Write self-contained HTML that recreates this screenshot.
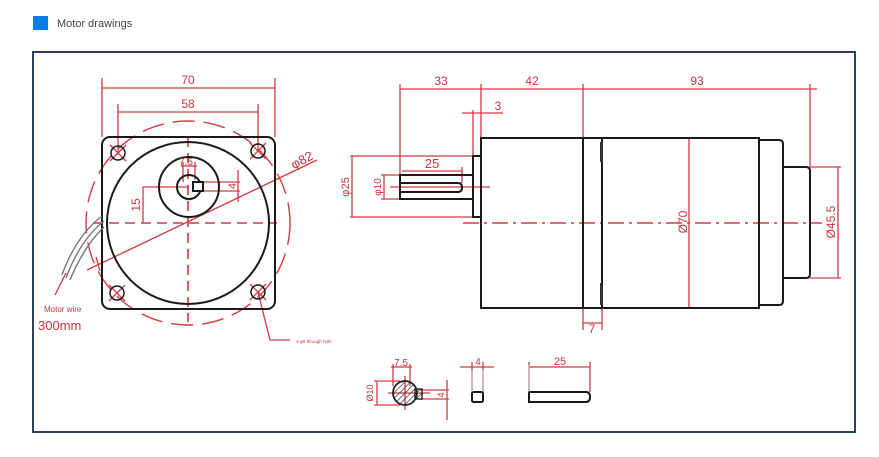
<!DOCTYPE html>
<html><head><meta charset="utf-8"><style>
html,body{margin:0;padding:0;background:#fff;width:879px;height:457px;overflow:hidden}
svg{display:block}
</style></head><body>
<svg width="879" height="457" viewBox="0 0 879 457" xmlns="http://www.w3.org/2000/svg" font-family="Liberation Sans, sans-serif">
<rect x="33" y="16" width="15" height="14" fill="#0a7ee8"/>
<text x="57" y="27" font-size="11" fill="#444">Motor drawings</text>
<rect x="33" y="52" width="822" height="380" fill="none" stroke="#2b3f63" stroke-width="2"/>

<g stroke="#d03a44" fill="none" stroke-width="1.3">
<line x1="102" y1="78" x2="102" y2="137"/><line x1="275" y1="78" x2="275" y2="137"/>
<line x1="102" y1="88" x2="275" y2="88"/>
<line x1="118" y1="104" x2="118" y2="153"/><line x1="258" y1="104" x2="258" y2="151"/>
<line x1="118" y1="112" x2="258" y2="112"/>
<circle cx="188" cy="223" r="102" stroke-dasharray="22 9" stroke-width="1.4"/>
<line x1="93" y1="223" x2="277" y2="223" stroke-dasharray="10 6" stroke-width="1.6"/>
<line x1="188" y1="137" x2="188" y2="322" stroke-dasharray="10 6" stroke-width="1.6"/>
<line x1="87" y1="270" x2="317" y2="160"/>
<line x1="96" y1="257" x2="100" y2="271"/>
<line x1="143" y1="187" x2="189" y2="187"/><line x1="143" y1="187" x2="143" y2="223"/>
<line x1="203" y1="182" x2="240" y2="182"/><line x1="203" y1="191" x2="240" y2="191"/>
<line x1="238" y1="170" x2="238" y2="202"/>
<line x1="183" y1="162" x2="183" y2="182"/><line x1="195" y1="162" x2="195" y2="180"/>
<line x1="181" y1="166" x2="197" y2="166"/>
<line x1="110" y1="145" x2="126" y2="161"/><line x1="110" y1="161" x2="126" y2="145"/>
<line x1="250" y1="143" x2="266" y2="159"/><line x1="250" y1="159" x2="266" y2="143"/>
<line x1="109" y1="285" x2="125" y2="301"/><line x1="109" y1="301" x2="125" y2="285"/>
<line x1="250" y1="284" x2="266" y2="300"/><line x1="250" y1="300" x2="266" y2="284"/>
<polyline points="258,292 270,340 290,340"/>
<line x1="55" y1="295" x2="66" y2="273"/>
<line x1="400" y1="89" x2="817" y2="89"/>
<line x1="400" y1="84" x2="400" y2="175"/><line x1="481" y1="84" x2="481" y2="138"/>
<line x1="583" y1="84" x2="583" y2="330"/><line x1="810" y1="84" x2="810" y2="167"/>
<line x1="473" y1="110" x2="473" y2="156"/><line x1="462" y1="113" x2="503" y2="113"/>
<line x1="402" y1="171" x2="462" y2="171"/><line x1="462" y1="167" x2="462" y2="183"/>
<line x1="350" y1="156" x2="473" y2="156"/><line x1="350" y1="217" x2="473" y2="217"/>
<line x1="352" y1="156" x2="352" y2="217"/>
<line x1="381" y1="175" x2="400" y2="175"/><line x1="381" y1="199" x2="400" y2="199"/>
<line x1="384" y1="175" x2="384" y2="199"/>
<line x1="390" y1="187" x2="490" y2="187"/>
<line x1="463" y1="223" x2="822" y2="223" stroke-dasharray="16 5 3 5" stroke-width="1.5"/>
<line x1="689" y1="138" x2="689" y2="308"/>
<line x1="810" y1="167" x2="841" y2="167"/><line x1="810" y1="278" x2="841" y2="278"/>
<line x1="838" y1="167" x2="838" y2="278"/>
<line x1="602" y1="308" x2="602" y2="330"/><line x1="583" y1="323" x2="602" y2="323"/>
<line x1="393" y1="364" x2="393" y2="386"/><line x1="410" y1="364" x2="410" y2="386"/>
<line x1="391" y1="367" x2="412" y2="367"/>
<line x1="374" y1="381" x2="400" y2="381"/><line x1="374" y1="405" x2="400" y2="405"/>
<line x1="377" y1="381" x2="377" y2="405"/>
<line x1="420" y1="390" x2="449" y2="390"/><line x1="420" y1="399" x2="449" y2="399"/>
<line x1="447" y1="380" x2="447" y2="420"/>
<line x1="405" y1="376" x2="405" y2="410"/><line x1="388" y1="393" x2="430" y2="393"/>
<line x1="460" y1="367" x2="494" y2="367"/><line x1="472" y1="362" x2="472" y2="392"/><line x1="483" y1="362" x2="483" y2="392"/>
<line x1="529" y1="367" x2="590" y2="367"/><line x1="529" y1="362" x2="529" y2="392"/><line x1="590" y1="362" x2="590" y2="392"/>
</g>

<g stroke="#1a1a1a" fill="none" stroke-width="2">
<rect x="102" y="137" width="173" height="172" rx="8"/>
<circle cx="188" cy="223" r="81"/>
<circle cx="189" cy="187" r="30"/>
<circle cx="189" cy="187" r="12"/>
<rect x="193" y="182" width="10" height="9" fill="#fff"/>
<circle cx="118" cy="153" r="7" stroke-width="1.5"/>
<circle cx="258" cy="151" r="7" stroke-width="1.5"/>
<circle cx="117" cy="293" r="7" stroke-width="1.5"/>
<circle cx="258" cy="292" r="7" stroke-width="1.5"/>
<rect x="481" y="138" width="278" height="170"/>
<line x1="583" y1="138" x2="583" y2="308"/>
<line x1="602" y1="138" x2="602" y2="308"/>
<path d="M759 140 H779 Q783 140 783 144 V301 Q783 305 779 305 H759"/>
<path d="M783 167 H806 Q810 167 810 171 V274 Q810 278 806 278 H783"/>
<rect x="473" y="156" width="8" height="61"/>
<rect x="400" y="175" width="73" height="24"/>
<path d="M401 183 H458 Q462 183 462 187.5 Q462 192 458 192 H401"/>
<rect x="472" y="392" width="11" height="10" rx="1.5"/>
<path d="M529 392 H586 Q590 392 590 397 Q590 402 586 402 H529 Z"/>
</g>
<g fill="#333"><rect x="600" y="142" width="3" height="20"/><rect x="600" y="283" width="3" height="22"/></g>
<g stroke="#aaa" stroke-width="1"><line x1="472" y1="370" x2="472" y2="392"/><line x1="483" y1="370" x2="483" y2="392"/>
<line x1="529" y1="365" x2="529" y2="392"/></g>
<defs><pattern id="h" width="4" height="4" patternUnits="userSpaceOnUse" patternTransform="rotate(45)"><line x1="0" y1="0" x2="0" y2="4" stroke="#333" stroke-width="1.4"/></pattern></defs>
<circle cx="405" cy="393" r="12" fill="url(#h)" stroke="#222" stroke-width="1.8"/>
<rect x="415" y="389" width="7" height="10" fill="url(#h)" stroke="#222" stroke-width="1.4"/>
<g stroke="#777" fill="none" stroke-width="1.4">
<path d="M102 216 Q76 236 62 275"/><path d="M104 221 Q80 240 66 278"/><path d="M104 227 Q84 246 70 280"/>
</g>

<g fill="#c9333d" font-size="12">
<text x="188" y="84" text-anchor="middle">70</text>
<text x="188" y="108" text-anchor="middle">58</text>
<text x="186" y="165" text-anchor="middle" font-size="10">7.5</text>
<text transform="translate(304,164) rotate(-28)" font-size="13" text-anchor="middle">φ82</text>
<text transform="translate(140,205) rotate(-90)" text-anchor="middle">15</text>
<text transform="translate(236,186) rotate(-90)" text-anchor="middle" font-size="11">4</text>
<text x="44" y="312" font-size="8">Motor wire</text>
<text x="38" y="330" font-size="13">300mm</text>
<text x="296" y="343" font-size="4.5">4-φ6 through hole</text>
<text x="441" y="85" text-anchor="middle">33</text>
<text x="532" y="85" text-anchor="middle">42</text>
<text x="697" y="85" text-anchor="middle">93</text>
<text x="498" y="110" text-anchor="middle">3</text>
<text x="432" y="168" text-anchor="middle" font-size="13">25</text>
<text transform="translate(349,187) rotate(-90)" text-anchor="middle" font-size="11">φ25</text>
<text transform="translate(381,187) rotate(-90)" text-anchor="middle" font-size="10">φ10</text>
<text transform="translate(687,222) rotate(-90)" text-anchor="middle" font-size="12">Ø70</text>
<text transform="translate(835,222) rotate(-90)" text-anchor="middle" font-size="12">Ø45.5</text>
<text x="592" y="333" text-anchor="middle">7</text>
<text x="401" y="366" text-anchor="middle" font-size="10">7.5</text>
<text transform="translate(373,393) rotate(-90)" text-anchor="middle" font-size="9">Ø10</text>
<text transform="translate(444,395) rotate(-90)" text-anchor="middle" font-size="9">4</text>
<text x="478" y="365" text-anchor="middle" font-size="10">4</text>
<text x="560" y="365" text-anchor="middle" font-size="11">25</text>
</g>
</svg>
</body></html>
